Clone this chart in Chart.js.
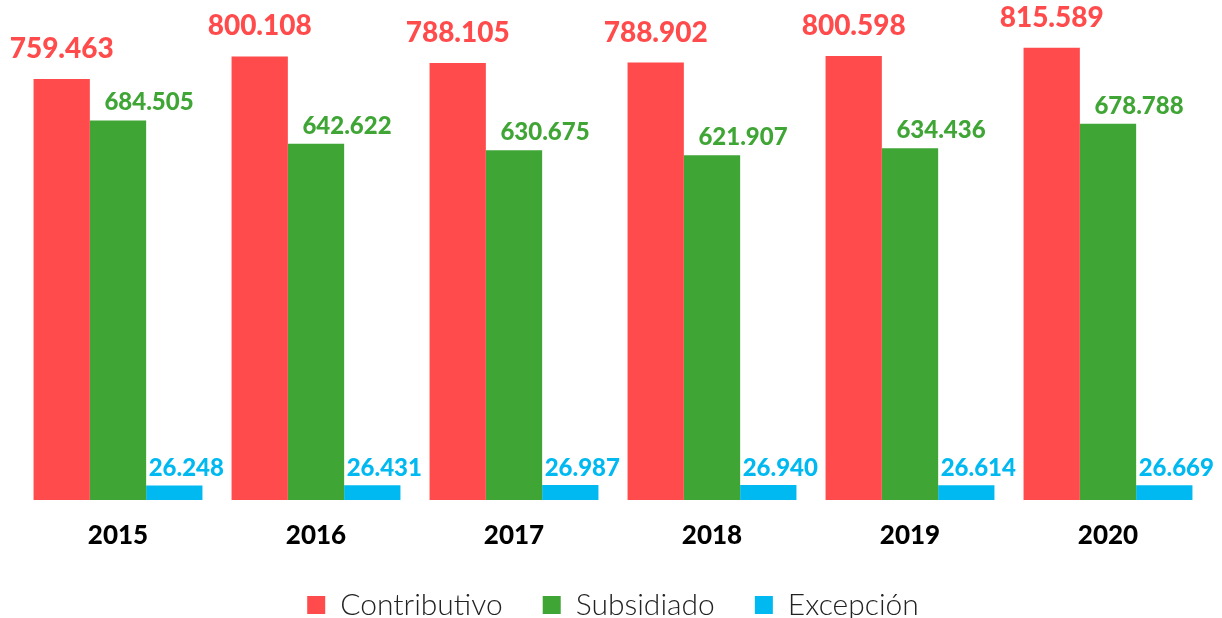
<!DOCTYPE html>
<html>
<head>
<meta charset="utf-8">
<script src="https://cdn.jsdelivr.net/npm/chart.js"></script>
<style>
  html, body { margin: 0; padding: 0; background: #fff; }
  #wrap { width: 1222px; height: 618px; position: relative; }
</style>
</head>
<body>
<div id="wrap"><canvas id="chart"></canvas></div>
<script>
const years = ['2015', '2016', '2017', '2018', '2019', '2020'];
const contributivo = [759463, 800108, 788105, 788902, 800598, 815589];
const subsidiado = [684505, 642622, 630675, 621907, 634436, 678788];
const excepcion = [26248, 26431, 26987, 26940, 26614, 26669];

const RED = '#FF4B4B';
const GREEN = '#3FA535';
const BLUE = '#00B9F1';

function fmt(v) {
    return v.toString().replace(/\B(?=(\d{3})+(?!\d))/g, '.');
}

// value labels above each bar (offsets copied from the original layout)
const labelStyles = [
    { size: 28, dx: 0, dy: 21 },
    { size: 24, dx: 31, dy: 10 },
    { size: 24, dx: 12, dy: 9 }
];

const barLabels = {
    id: 'barLabels',
    afterDatasetsDraw(chart) {
        const ctx = chart.ctx;
        ctx.save();
        chart.data.datasets.forEach((ds, i) => {
            const st = labelStyles[i];
            ctx.font = '900 ' + st.size + 'px Lato';
            ctx.fillStyle = ds.backgroundColor;
            ctx.textAlign = 'center';
            ctx.textBaseline = 'alphabetic';
            chart.getDatasetMeta(i).data.forEach((bar, j) => {
                ctx.fillText(fmt(ds.data[j]), bar.x + st.dx, bar.y - st.dy);
            });
        });
        ctx.restore();
    }
};

new Chart(document.getElementById('chart'), {
    type: 'bar',
    data: {
        labels: years,
        datasets: [
            { label: 'Contributivo', data: contributivo, backgroundColor: RED },
            { label: 'Subsidiado', data: subsidiado, backgroundColor: GREEN },
            { label: 'Excepción', data: excepcion, backgroundColor: BLUE }
        ]
    },
    options: {
        responsive: true,
        maintainAspectRatio: false,
        animation: false,
        datasets: {
            bar: { categoryPercentage: 0.853, barPercentage: 1.0 }
        },
        layout: { padding: { top: 1, left: 19, right: 15, bottom: -12 } },
        plugins: {
            legend: {
                position: 'bottom',
                labels: {
                    boxWidth: 18,
                    boxHeight: 18,
                    padding: 40,
                    color: '#222',
                    font: { family: 'Lato', size: 30, weight: 300 }
                }
            },
            tooltip: { enabled: false }
        },
        scales: {
            x: {
                grid: { display: false },
                border: { display: false },
                afterFit: function(scale) { scale.height = 50; },
                ticks: {
                    color: '#000',
                    padding: 12,
                    font: { family: 'Lato', size: 26, weight: 900 }
                }
            },
            y: {
                display: false,
                min: 0,
                max: 900000
            }
        }
    },
    plugins: [barLabels]
});
</script>
</body>
</html>
